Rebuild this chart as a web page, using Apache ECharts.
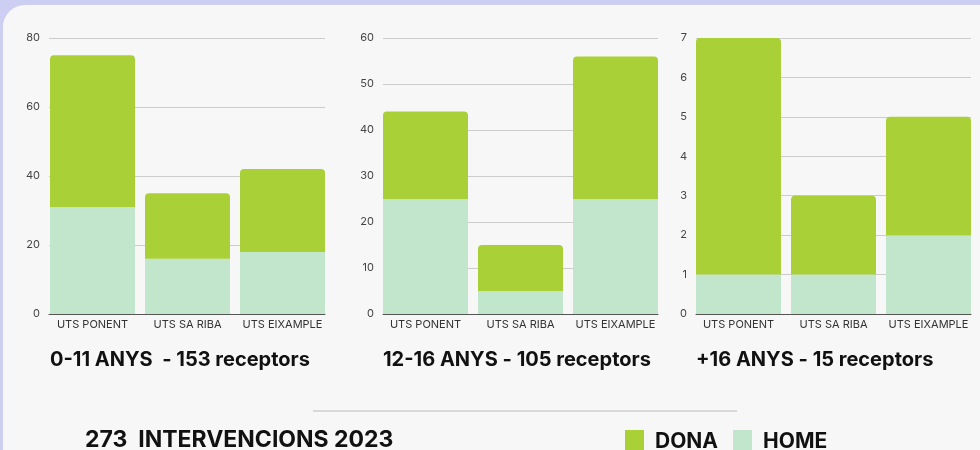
<!DOCTYPE html>
<html>
<head>
<meta charset="utf-8">
<script src="https://cdn.jsdelivr.net/npm/echarts@6/dist/echarts.min.js"></script>
<style>
  html, body {margin: 0; padding: 0; background: #cdcff2;}
  #main {width: 980px; height: 450px;}
</style>
</head>
<body>
<div id="main"></div>
<script>
const categories = ['UTS PONENT', 'UTS SA RIBA', 'UTS EIXAMPLE'];

// 0-11 anys
const home011 = [31, 16, 18];
const dona011 = [44, 19, 24];
// 12-16 anys
const home1216 = [25, 5, 25];
const dona1216 = [19, 10, 31];
// +16 anys
const home16 = [1, 1, 2];
const dona16 = [6, 2, 3];

const titles = ['0-11 ANYS  - 153 receptors', '12-16 ANYS - 105 receptors', '+16 ANYS - 15 receptors'];
const yMax = [80, 60, 7];
const yStep = [20, 10, 1];

const DONA = '#a9d137';
const HOME = '#c2e6cb';
const FONT = 'Inter';

const chart = echarts.init(document.getElementById('main'));

// grid with the split lines / y labels, and a slightly wider one holding the bars
const lineLeft = [49, 383, 696];
const lineWidth = [276, 275, 275];
const barLeft = [45, 378, 691];
const barWidth = 285;
const homeData = [home011, home1216, home16];
const donaData = [dona011, dona1216, dona16];

let grids = [], xAxes = [], yAxes = [], series = [];
for (let i = 0; i < 3; i++) {
  grids.push({left: lineLeft[i], width: lineWidth[i], top: 38, bottom: 136});
  grids.push({left: barLeft[i], width: barWidth, top: 38, bottom: 136});
  xAxes.push({
    type: 'category',
    gridIndex: 2 * i,
    data: categories,
    axisLine: {lineStyle: {color: '#555', width: 1}},
    axisTick: {show: false},
    axisLabel: {show: false}
  });
  xAxes.push({
    type: 'category',
    gridIndex: 2 * i + 1,
    data: categories,
    axisLine: {show: false},
    axisTick: {show: false},
    axisLabel: {color: '#333', fontSize: 11, fontFamily: FONT, margin: 5, interval: 0}
  });
  yAxes.push({
    type: 'value',
    gridIndex: 2 * i,
    min: 0,
    max: yMax[i],
    interval: yStep[i],
    axisLine: {show: false},
    axisTick: {show: false},
    axisLabel: {color: '#444', fontSize: 11, fontFamily: FONT, margin: 9},
    splitLine: {lineStyle: {color: '#cccccc', width: 1}}
  });
  yAxes.push({
    type: 'value',
    gridIndex: 2 * i + 1,
    min: 0,
    max: yMax[i],
    interval: yStep[i],
    show: false,
    splitLine: {show: false}
  });
  series.push({
    name: 'HOME',
    type: 'bar',
    stack: 's' + i,
    xAxisIndex: 2 * i + 1,
    yAxisIndex: 2 * i + 1,
    barWidth: 85,
    itemStyle: {color: HOME},
    data: homeData[i]
  });
  series.push({
    name: 'DONA',
    type: 'bar',
    stack: 's' + i,
    xAxisIndex: 2 * i + 1,
    yAxisIndex: 2 * i + 1,
    barWidth: 85,
    itemStyle: {color: DONA, borderRadius: [4, 4, 0, 0]},
    data: donaData[i]
  });
}

const titleX = [50, 383, 696];
let graphics = [
  {
    type: 'rect', z: -10, silent: true,
    shape: {x: 3, y: 5, width: 1000, height: 470, r: 22},
    style: {fill: '#f7f7f7'}
  },
  {
    type: 'line', silent: true,
    shape: {x1: 313, y1: 411, x2: 737, y2: 411},
    style: {stroke: '#d9d9d9', lineWidth: 2}
  },
  {
    type: 'text', left: 85, top: 429,
    style: {text: '273  INTERVENCIONS 2023', font: 'bold 23px ' + FONT, fill: '#111'}
  }
];
for (let i = 0; i < 3; i++) {
  graphics.push({
    type: 'text', left: titleX[i], top: 350,
    style: {text: titles[i], font: 'bold 20px ' + FONT, fill: '#111'}
  });
}

chart.setOption({
  backgroundColor: 'transparent',
  animation: false,
  grid: grids,
  xAxis: xAxes,
  yAxis: yAxes,
  legend: {
    data: ['DONA', 'HOME'],
    left: 625,
    top: 430,
    padding: 0,
    itemWidth: 19,
    itemHeight: 24,
    itemGap: 15,
    icon: 'rect',
    textStyle: {fontSize: 21, fontWeight: 'bold', fontFamily: FONT, color: '#111', padding: [0, 0, 0, 6]}
  },
  graphic: graphics,
  series: series
});
</script>
</body>
</html>
